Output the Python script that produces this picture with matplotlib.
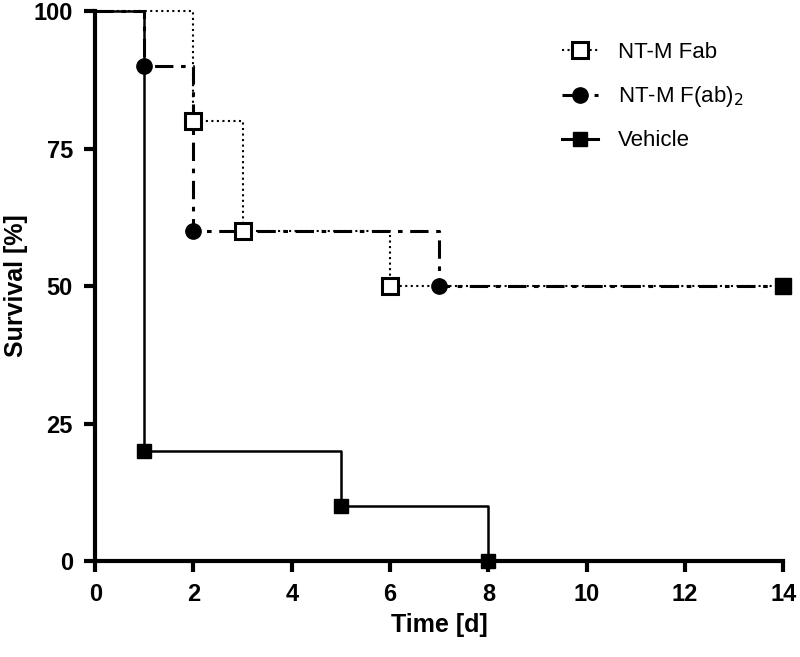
import numpy as np
import matplotlib.pyplot as plt

# Kaplan-Meier step data
fab_t = [0, 2, 3, 6, 14]
fab_s = [100, 80, 60, 50, 50]
fab_mark_t = [2, 3, 6]
fab_mark_s = [80, 60, 50]

f2_t = [0, 1, 2, 7, 14]
f2_s = [100, 90, 60, 50, 50]
f2_mark_t = [1, 2, 7]
f2_mark_s = [90, 60, 50]

veh_t = [0, 1, 5, 8]
veh_s = [100, 20, 10, 0]
veh_mark_t = [1, 5, 8]
veh_mark_s = [20, 10, 0]

end_t = [14]
end_s = [50]

xticks = [0, 2, 4, 6, 8, 10, 12, 14]
yticks = [0, 25, 50, 75, 100]

plt.rcParams['font.family'] = ['Liberation Sans', 'DejaVu Sans']

fig = plt.figure(figsize=(8, 6.57), dpi=100)
ax = fig.add_axes([0.119, 0.146, 0.86, 0.837])

ax.step(fab_t, fab_s, where='post', color='black', linestyle=':', linewidth=1.5, clip_on=False)
ax.step(f2_t, f2_s, where='post', color='black', linewidth=2.2, dashes=(6, 2.5, 1.5, 2.5), clip_on=False)
ax.step(veh_t, veh_s, where='post', color='black', linestyle='-', linewidth=1.8, clip_on=False)

ax.plot(fab_mark_t, fab_mark_s, linestyle='none', marker='s', markersize=11,
        markerfacecolor='white', markeredgecolor='black', markeredgewidth=2.2, zorder=5)
ax.plot(f2_mark_t, f2_mark_s, linestyle='none', marker='o', markersize=11,
        color='black', zorder=5)
ax.plot(veh_mark_t, veh_mark_s, linestyle='none', marker='s', markersize=10,
        color='black', zorder=5, clip_on=False)
ax.plot(end_t, end_s, linestyle='none', marker='s', markersize=11,
        color='black', zorder=6, clip_on=False)

# legend proxies
h1, = ax.plot([], [], color='black', linestyle=':', linewidth=1.5, marker='s', markersize=11,
              markerfacecolor='white', markeredgecolor='black', markeredgewidth=2.2)
h2, = ax.plot([], [], color='black', linewidth=2.2, dashes=(4, 2.5, 1.5, 2.5), marker='o', markersize=11)
h3, = ax.plot([], [], color='black', linewidth=2.2, marker='s', markersize=10)
ax.legend([h1, h2, h3], ['NT-M Fab', 'NT-M F(ab)$_2$', 'Vehicle'], loc='upper left',
          bbox_to_anchor=(0.65, 0.98), frameon=False, fontsize=16, handlelength=1.6,
          labelspacing=0.95, handletextpad=0.9)

ax.set_xlim(0, 14)
ax.set_ylim(0, 100)
ax.set_xticks(xticks)
ax.set_yticks(yticks)
ax.spines['top'].set_visible(False)
ax.spines['right'].set_visible(False)
ax.spines['left'].set_linewidth(3)
ax.spines['bottom'].set_linewidth(3)
ax.tick_params(direction='out', length=8, width=3, labelsize=17, pad=8)
for lab in ax.get_xticklabels() + ax.get_yticklabels():
    lab.set_fontweight('bold')
ax.set_xlabel('Time [d]', fontsize=18, fontweight='bold')
ax.set_ylabel('Survival [%]', fontsize=18, fontweight='bold')
ax.xaxis.set_label_coords(0.5, -0.095)
ax.yaxis.set_label_coords(-0.098, 0.5)

fig.savefig('out.png', dpi=100)
